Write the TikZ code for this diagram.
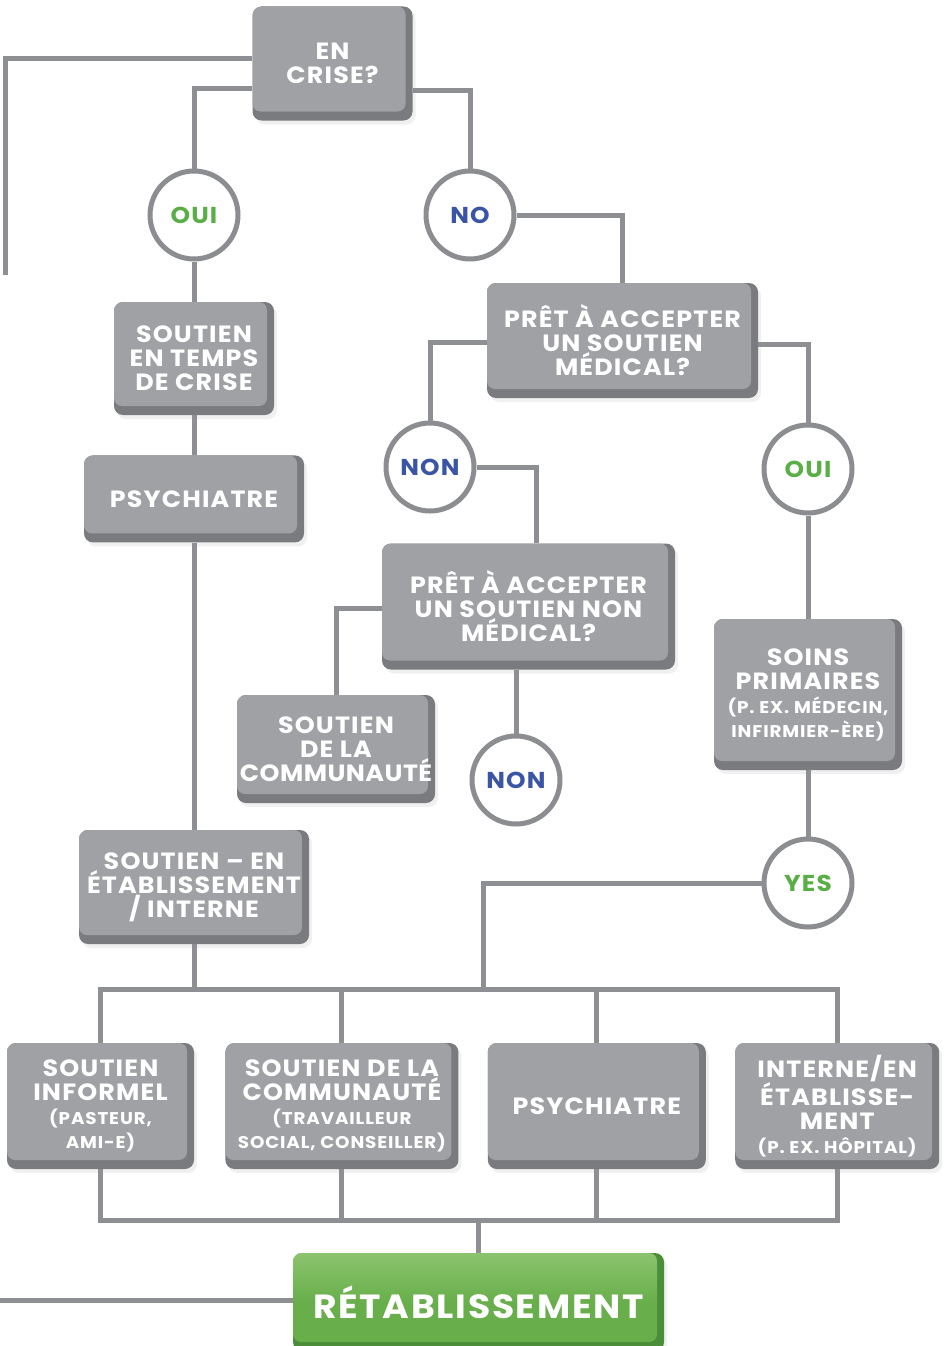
\documentclass[tikz,border=0pt]{standalone}
\usepackage{fontspec}
\setmainfont{Poppins}
\newfontfamily\labelfont{Poppins}[LetterSpace=5,FakeStretch=1.08]
\usepackage{tikz}
\usetikzlibrary{positioning,calc,shadows}
\definecolor{BoxGray}{HTML}{A0A1A5}
\definecolor{BoxEdge}{HTML}{7A7B7F}
\definecolor{LineGray}{HTML}{8E8F92}
\definecolor{CircGray}{HTML}{8C8D90}
\definecolor{OuiGreen}{HTML}{5AAE46}
\definecolor{NonBlue}{HTML}{3B55A6}
\definecolor{RecovGreen}{HTML}{68AF4B}
\definecolor{RecovLight}{HTML}{8CC46E}
\definecolor{RecovEdge}{HTML}{4C8D39}
\newcommand{\subtxt}{\fontsize{17}{20}\selectfont}
\tikzset{
	box/.style={rectangle,rounded corners=9pt,fill=BoxEdge,text=white,align=center,inner sep=1pt,font=\labelfont\bfseries\fontsize{23.5}{24}\selectfont,drop shadow={opacity=0.12,shadow xshift=3pt,shadow yshift=-4pt},path picture={\fill[BoxGray,rounded corners=8pt] (path picture bounding box.north west) rectangle ([xshift=-7pt,yshift=9pt]path picture bounding box.south east);}},
	greenbox/.style={box,fill=RecovEdge,font=\labelfont\bfseries\fontsize{33.5}{36}\selectfont,path picture={\shade[top color=RecovLight,bottom color=RecovGreen,middle color=RecovGreen,rounded corners=8pt] (path picture bounding box.north west) rectangle ([xshift=-7pt,yshift=9pt]path picture bounding box.south east);}},
	circ/.style={circle,draw=CircGray,line width=5pt,fill=white,minimum size=88pt,inner sep=0pt,font=\labelfont\bfseries\fontsize{23}{24}\selectfont},
	line/.style={draw=LineGray,line width=5pt}
}

\begin{document}
\begin{tikzpicture}[x=1pt,y=-1pt]
	\useasboundingbox (0,0) rectangle (943,1346);
	\node[box,minimum width=160pt,minimum height=114pt] (crise) at (332.5,63.5) {EN\\CRISE?};
	\node[circ,text=OuiGreen] (oui1) at (194,215) {OUI};
	\node[circ,text=NonBlue] (no1) at (470,215) {NO};
	\node[box,minimum width=271pt,minimum height=115pt] (medical) at (622.5,340.5) {PRÊT À ACCEPTER\\UN SOUTIEN\\MÉDICAL?};
	\node[box,minimum width=160pt,minimum height=113pt] (tempscrise) at (194,358.5) {SOUTIEN\\EN TEMPS\\DE CRISE};
	\node[box,minimum width=220pt,minimum height=87pt,below=40pt of tempscrise] (psyA) {PSYCHIATRE};
	\node[circ,text=NonBlue] (non1) at (430,467) {NON};
	\node[circ,text=OuiGreen] (oui2) at (808,469) {OUI};
	\node[box,minimum width=293pt,minimum height=126pt] (nonmedical) at (528.5,606.5) {PRÊT À ACCEPTER\\UN SOUTIEN NON\\MÉDICAL?};
	\node[box,minimum width=198pt,minimum height=108pt] (communauteA) at (336,749) {SOUTIEN\\DE LA\\{\addfontfeature{LetterSpace=2}COMMUNAUTÉ}};
	\node[circ,text=NonBlue] (non2) at (516,780) {NON};
	\node[box,minimum width=188pt,minimum height=151pt] (soins) at (808,694.5) {SOINS\\PRIMAIRES\\{\subtxt (P. EX. MÉDECIN,}\\{\subtxt INFIRMIER-ÈRE)}};
	\node[circ,text=OuiGreen] (yes) at (808,883) {YES};
	\node[box,minimum width=230pt,minimum height=114pt] (etablissement) at (194,887) {SOUTIEN – EN\\ÉTABLISSEMENT\\/ INTERNE};
	\node[box,minimum width=187pt,minimum height=126pt] (informel) at (100.5,1106) {SOUTIEN\\INFORMEL\\{\subtxt (PASTEUR,}\\{\subtxt AMI-E)}};
	\node[box,minimum width=233pt,minimum height=126pt,right=31pt of informel] (communauteB) {SOUTIEN DE LA\\COMMUNAUTÉ\\{\subtxt (TRAVAILLEUR}\\{\subtxt SOCIAL, CONSEILLER)}};
	\node[box,minimum width=218pt,minimum height=126pt,right=29pt of communauteB] (psyB) {PSYCHIATRE};
	\node[box,minimum width=204pt,minimum height=126pt,right=29pt of psyB] (interne) {INTERNE/EN\\ÉTABLISSE-\\MENT\\{\subtxt (P. EX. HÔPITAL)}};
	\node[greenbox,minimum width=371pt,minimum height=98pt] (retab) at (478.5,1302) {RÉTABLISSEMENT};
	\coordinate (crisisend) at (5,275);
	\coordinate (recovend) at (0,1300);
	\coordinate (yesdrop) at (483,990);
	\coordinate (recovdrop) at (478.5,1220);
	\draw[line] ([yshift=5pt]crise.west) -| (crisisend);
	\draw[line] ([yshift=-25pt]crise.west) -| (oui1.north);
	\draw[line] ([yshift=-27pt]crise.east) -| (no1.north);
	\draw[line] (oui1.south) -- (tempscrise.north);
	\draw[line] (tempscrise.south) -- (psyA.north);
	\draw[line] (psyA.south) -- (etablissement.north);
	\draw[line] (no1.east) -| (medical.north);
	\draw[line] ([yshift=-2pt]medical.west) -| (non1.north);
	\draw[line] ([yshift=-4pt]medical.east) -| (oui2.north);
	\draw[line] (non1.east) -| ([xshift=8pt]nonmedical.north);
	\draw[line] ([yshift=-2pt]nonmedical.west) -| (communauteA.north);
	\draw[line] (non2.north |- nonmedical.south) -- (non2.north);
	\draw[line] (oui2.south) -- (soins.north);
	\draw[line] (soins.south) -- (yes.north);
	\draw[line] (yes.west) -| (yesdrop);
	\draw[line] (informel.north) -- ++(0,-53) -| (interne.north);
	\draw[line] (etablissement.south) -- (etablissement.south |- yesdrop);
	\draw[line] (communauteB.north) -- (communauteB.north |- yesdrop);
	\draw[line] (psyB.north) -- (psyB.north |- yesdrop);
	\draw[line] (informel.south) -- ++(0,51) -| (interne.south);
	\draw[line] (communauteB.south) -- (communauteB.south |- recovdrop);
	\draw[line] (psyB.south) -- (psyB.south |- recovdrop);
	\draw[line] (retab.north) -- (recovdrop);
	\draw[line] (recovend) -- (recovend -| retab.west);
\end{tikzpicture}
\end{document}
